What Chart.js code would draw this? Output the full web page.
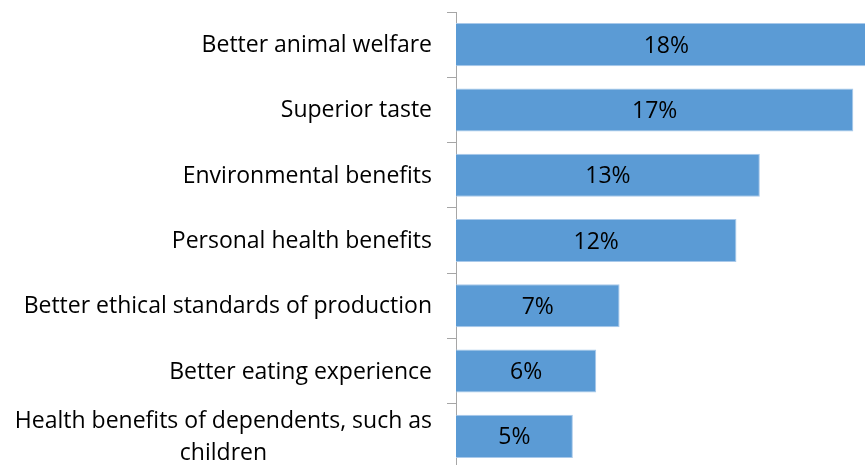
<!DOCTYPE html>
<html>
<head>
<meta charset="utf-8">
<script src="https://cdn.jsdelivr.net/npm/chart.js@4/dist/chart.umd.min.js"></script>
<style>
  html, body { margin: 0; padding: 0; background: #fff; overflow: hidden; }
  #wrap { position: relative; width: 865px; height: 476px; }
</style>
</head>
<body>
<div id="wrap"><canvas id="c"></canvas></div>
<script>
// Reasons given for the choice, share of respondents (%)
const categories = [
  'Better animal welfare',
  'Superior taste',
  'Environmental benefits',
  'Personal health benefits',
  'Better ethical standards of production',
  'Better eating experience',
  ['Health benefits of dependents, such as', 'children']
];
const shares = [18, 17, 13, 12, 7, 6, 5];

const FONT = '23px "Open Sans", "Noto Sans", sans-serif';

// Category names to the left of the axis; wrapped names are centred on their widest line
const categoryText = {
  id: 'categoryText',
  afterDraw(chart) {
    const { ctx } = chart;
    const y = chart.scales.y;
    const right = y.right - 24;
    ctx.save();
    ctx.font = FONT;
    ctx.fillStyle = '#000';
    ctx.textBaseline = 'middle';
    categories.forEach((lab, i) => {
      const lines = Array.isArray(lab) ? lab : [lab];
      const yc = y.getPixelForValue(i) + 1;
      if (lines.length === 1) {
        ctx.textAlign = 'right';
        ctx.fillText(lines[0], right, yc);
      } else {
        const widest = Math.max(...lines.map(l => ctx.measureText(l).width));
        const cx = right - widest / 2;
        ctx.textAlign = 'center';
        lines.forEach((l, k) => {
          ctx.fillText(l, cx, yc + (k - (lines.length - 1) / 2) * 32);
        });
      }
    });
    ctx.restore();
  }
};

// Percentage printed in the middle of each bar
const valueText = {
  id: 'valueText',
  afterDatasetsDraw(chart) {
    const { ctx } = chart;
    const x = chart.scales.x;
    const meta = chart.getDatasetMeta(0);
    ctx.save();
    ctx.font = FONT;
    ctx.fillStyle = '#000';
    ctx.textAlign = 'center';
    ctx.textBaseline = 'middle';
    meta.data.forEach((bar, i) => {
      const cx = (x.getPixelForValue(0) + x.getPixelForValue(shares[i])) / 2;
      ctx.fillText(shares[i] + '%', cx, bar.y + 1.5);
    });
    ctx.restore();
  }
};

new Chart(document.getElementById('c'), {
  type: 'bar',
  data: {
    labels: categories,
    datasets: [{
      data: shares,
      backgroundColor: '#5b9bd5',
      borderColor: '#a9c9ea',
      borderWidth: 1,
      categoryPercentage: 1,
      barPercentage: 0.66
    }]
  },
  options: {
    indexAxis: 'y',
    responsive: true,
    maintainAspectRatio: false,
    animation: false,
    layout: { padding: { top: 12, bottom: 7, left: 0, right: 0 } },
    plugins: {
      legend: { display: false },
      tooltip: { enabled: false }
    },
    scales: {
      x: { display: false, min: 0, max: 17.5 },
      y: {
        offset: true,
        ticks: { display: false },
        grid: {
          display: true,
          drawOnChartArea: false,
          drawTicks: true,
          tickLength: 9,
          color: '#a6a6a6',
          offset: true
        },
        border: { display: true, color: '#a6a6a6', width: 1 },
        afterFit(scale) { scale.width = 456; }
      }
    }
  },
  plugins: [categoryText, valueText]
});
</script>
</body>
</html>
